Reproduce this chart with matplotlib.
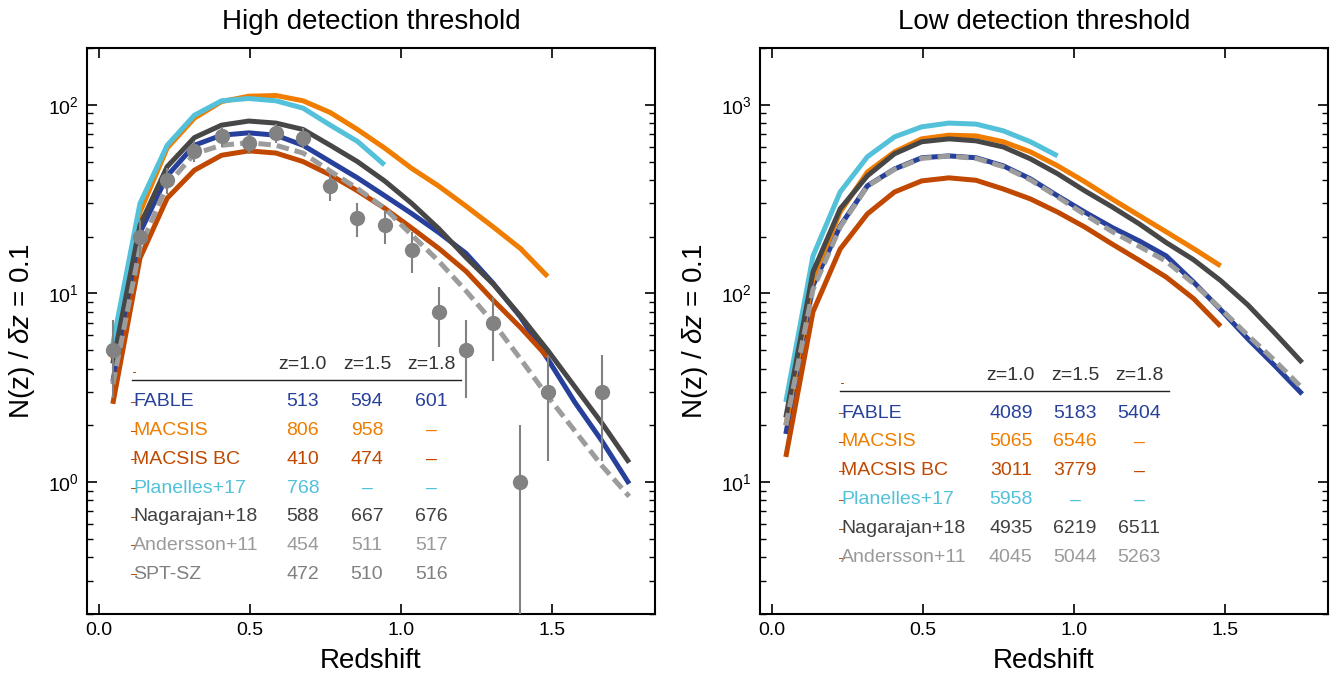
import matplotlib
matplotlib.use("Agg")
import matplotlib.pyplot as plt

plt.rcParams['font.family'] = ['Liberation Sans', 'DejaVu Sans']
plt.rcParams['mathtext.fontset'] = 'custom'
plt.rcParams['mathtext.rm'] = 'Liberation Sans'
plt.rcParams['mathtext.it'] = 'Liberation Sans:italic'
plt.rcParams['axes.linewidth'] = 1.5

# redshift bin centres
z = [0.045, 0.135, 0.225, 0.315, 0.405, 0.495, 0.585, 0.675, 0.765, 0.855,
     0.945, 1.035, 1.125, 1.215, 1.305, 1.395, 1.485, 1.575, 1.665, 1.755]

# --- high detection threshold ---
hi_fable = [3.4, 21, 42, 61, 69, 71, 69, 61, 50, 41, 33, 26.5, 21, 16.3, 11.3, 7.5, 4.5, 2.65, 1.65, 0.98]
hi_macsis = [4.5, 27, 59, 85, 104, 111, 112, 105, 91, 74, 59, 46, 37, 29, 22.5, 17.3, 12.3]
hi_macsis_bc = [2.6, 15.4, 32, 45, 54, 57, 55.5, 50, 42.5, 35, 28.3, 22.2, 17.3, 13.1, 9.2, 6.6, 4.6]
hi_planelles = [5.4, 30, 61, 88, 105, 108, 105, 96, 78, 64, 48]
hi_nagarajan = [4.25, 23, 47, 67, 78, 82, 80, 74, 61, 50, 39.5, 30, 22, 15.5, 11.2, 7.6, 5.0, 3.2, 2.05, 1.27]
hi_andersson = [3.3, 17.5, 37.5, 55, 61, 63, 61, 55.5, 44.5, 36, 28.3, 20.4, 14.8, 10.3, 7.0, 4.5, 2.85, 1.87, 1.22, 0.84]

spt_z = [0.045, 0.135, 0.225, 0.315, 0.405, 0.495, 0.585, 0.675, 0.765, 0.855,
         0.945, 1.035, 1.125, 1.215, 1.305, 1.395, 1.485, 1.665]
spt_n = [5, 20, 40, 57, 68, 63, 71, 67, 37, 25, 23, 17, 8, 5, 7, 1, 3, 3]
spt_err = [2.2, 4.5, 6.3, 7.5, 8.2, 7.9, 8.4, 8.2, 6.1, 5.0, 4.8, 4.1, 2.8, 2.2, 2.6, 1.0, 1.7, 1.7]

# --- low detection threshold ---
lo_fable = [18, 110, 228, 372, 457, 524, 536, 524, 475, 405, 329, 270, 224, 190, 158, 115, 82, 57.5, 41.3, 29.3]
lo_macsis = [20, 120, 270, 440, 563, 660, 690, 684, 637, 563, 475, 391, 317, 259, 212, 173, 140]
lo_macsis_bc = [13.6, 80, 172, 264, 345, 395, 410, 398, 358, 317, 270, 225, 183, 150, 122, 94, 67]
lo_planelles = [26.6, 158, 345, 530, 676, 764, 800, 790, 728, 637, 536]
lo_nagarajan = [22, 130, 281, 420, 550, 637, 660, 644, 598, 517, 431, 350, 288, 234, 186, 151, 117, 87, 61.5, 43]
lo_andersson = [20, 105, 225, 370, 455, 520, 535, 520, 470, 400, 325, 262, 213, 178, 148, 113, 83, 60, 44, 31.5]

# cumulative counts table
col_heads = ['z=1.0', 'z=1.5', 'z=1.8']
names_hi = ['FABLE', 'MACSIS', 'MACSIS BC', 'Planelles+17', 'Nagarajan+18', 'Andersson+11', 'SPT-SZ']
counts_hi = [['513', '594', '601'], ['806', '958', '–'], ['410', '474', '–'], ['768', '–', '–'],
             ['588', '667', '676'], ['454', '511', '517'], ['472', '510', '516']]
names_lo = ['FABLE', 'MACSIS', 'MACSIS BC', 'Planelles+17', 'Nagarajan+18', 'Andersson+11']
counts_lo = [['4089', '5183', '5404'], ['5065', '6546', '–'], ['3011', '3779', '–'], ['5958', '–', '–'],
             ['4935', '6219', '6511'], ['4045', '5044', '5263']]

c_fable = '#27409c'
c_macsis = '#f07d00'
c_bc = '#c04800'
c_plan = '#52c1d9'
c_naga = '#474747'
c_and = '#9c9c9c'
c_spt = '#828282'
text_cols = [c_fable, c_macsis, c_bc, c_plan, '#404040', '#9a9a9a', '#808080']

lw = 3.6


def draw_models(ax, fable, macsis, bc, plan, naga, anders):
    ax.plot(z[:len(fable)], fable, color=c_fable, lw=lw, solid_capstyle='butt')
    ax.plot(z[:len(macsis)], macsis, color=c_macsis, lw=lw, solid_capstyle='butt')
    ax.plot(z[:len(bc)], bc, color=c_bc, lw=lw, solid_capstyle='butt')
    ax.plot(z[:len(plan)], plan, color=c_plan, lw=lw, solid_capstyle='butt')
    ax.plot(z[:len(naga)], naga, color=c_naga, lw=lw, solid_capstyle='butt')
    ax.plot(z[:len(anders)], anders, color=c_and, lw=lw, dashes=(2.5, 1.2))


def draw_table(ax, x0, yh, dy, names, counts):
    offs = [0.299, 0.412, 0.525]
    for h, o in zip(col_heads, offs):
        ax.text(x0 + o, yh, h, transform=ax.transAxes, ha='center', va='center',
                fontsize=14, color='#333333')
    ax.plot([x0, x0 + 0.004], [yh - 0.012] * 2, transform=ax.transAxes, color=c_bc, lw=0.7)
    ax.plot([x0 - 0.002, x0 + 0.577], [yh - 0.027] * 2, transform=ax.transAxes, color='#222222', lw=1)
    for i, (nm, row) in enumerate(zip(names, counts)):
        y = yh - 0.0654 - i * dy
        col = text_cols[i]
        ax.plot([x0 - 0.003, x0 + 0.006], [y, y], transform=ax.transAxes, color=c_bc, lw=0.7)
        ax.text(x0, y, nm, transform=ax.transAxes, ha='left', va='center', fontsize=14, color=col)
        for v, o in zip(row, offs):
            ax.text(x0 + o, y, v, transform=ax.transAxes, ha='center', va='center',
                    fontsize=14, color=col)


def style(ax, title, ylim):
    ax.set_yscale('log')
    ax.set_xlim(-0.0405, 1.8405)
    ax.set_ylim(*ylim)
    ax.set_xticks([0.0, 0.5, 1.0, 1.5])
    ax.set_xticklabels(['0.0', '0.5', '1.0', '1.5'])
    ax.tick_params(which='both', direction='in', top=True, right=True, labelsize=14)
    ax.tick_params(which='major', length=7, width=1.2, pad=6)
    ax.tick_params(which='minor', length=4, width=1.0)
    ax.set_xlabel('Redshift', fontsize=20, labelpad=6)
    ax.set_ylabel(r'N(z) / $\delta z$ = 0.1', fontsize=20, labelpad=8)
    ax.set_title(title, fontsize=20, pad=14)


fig = plt.figure(figsize=(13.41, 6.77), dpi=100)
ax1 = fig.add_axes([87 / 1341, 63 / 677, 568 / 1341, 566 / 677])
ax2 = fig.add_axes([760 / 1341, 63 / 677, 568 / 1341, 566 / 677])

draw_models(ax1, hi_fable, hi_macsis, hi_macsis_bc, hi_planelles, hi_nagarajan, hi_andersson)
ax1.errorbar(spt_z, spt_n, yerr=spt_err, fmt='o', color=c_spt, ms=10, elinewidth=1.5,
             capsize=0, zorder=5)
style(ax1, 'High detection threshold', (0.2, 200))
draw_table(ax1, 0.081, 0.440, 0.0507, names_hi, counts_hi)

draw_models(ax2, lo_fable, lo_macsis, lo_macsis_bc, lo_planelles, lo_nagarajan, lo_andersson)
style(ax2, 'Low detection threshold', (2, 2000))
draw_table(ax2, 0.1426, 0.4205, 0.0512, names_lo, counts_lo)

fig.savefig('out.png', dpi=100)
